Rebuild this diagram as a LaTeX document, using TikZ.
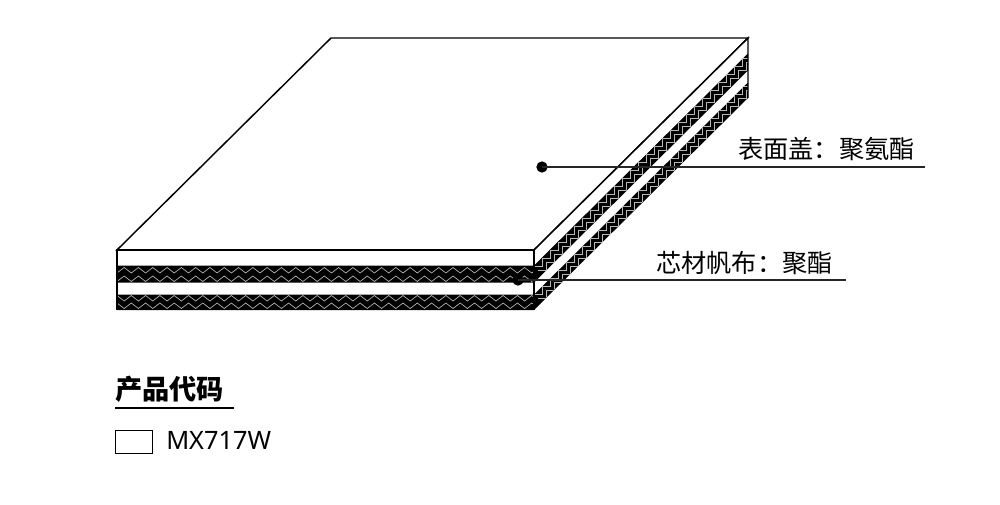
\documentclass[tikz,border=0pt]{standalone}
\usepackage{fontspec}
\setmainfont{Noto Sans CJK SC}
\newfontfamily\latinf{Noto Sans}
\tikzset{
  x=0.75pt,y=-0.75pt,
  edge/.style={draw=black,line width=1.1pt,line join=miter},
  leader/.style={draw=black!85,line width=0.8pt},
  zig/.style={draw=white!72!black,line width=0.5pt},
  band/.style={fill=black,draw=none},
  label/.style={inner sep=0pt,anchor=base west,font=\fontsize{18.9pt}{20pt}\selectfont},
  dotn/.style={circle,fill=black,inner sep=0pt,minimum size=8.5pt}
}
\newcommand{\frontzig}[2]{%
  \draw[zig] (117,#2)
  \foreach \k in {0,...,29}{ -- ({117+14.3*\k+7.15},#1) -- ({117+14.3*\k+14.3},#2) };
}
% side chevrons: #1 = start y, #2 = shift along the band
\newcommand{\sidezig}[2]{%
  \draw[zig] ({534+#2},{#1-#2})
  \foreach \k in {0,...,29}{ -- ({534+#2+8*\k+8},{#1-#2-8*\k}) -- ({534+#2+8*\k+8},{#1-#2-8*\k-8}) };
}
\begin{document}
\begin{tikzpicture}
\useasboundingbox (0,0) rectangle (1000,504);
% top face
\path[edge,fill=white] (117,250) -- (331,38) -- (748,38) -- (534,250) -- cycle;
% white layers
\path[fill=white] (534,250) -- (748,38) -- (748,98) -- (534,310) -- (117,310) -- (117,250) -- cycle;
% black bands, front and side
\path[band] (117,265.5) -- (534,265.5) -- (748,53.5) -- (748,70.5) -- (534,282.5) -- (117,282.5) -- cycle;
\path[band] (117,294.5) -- (534,294.5) -- (748,82.5) -- (748,98) -- (534,310) -- (117,310) -- cycle;
% zigzags
\begin{scope}
\clip (117,265.5) rectangle (534,282.5);
\frontzig{267.5}{273}
\frontzig{276}{281.5}
\end{scope}
\begin{scope}
\clip (117,294.5) rectangle (534,310);
\frontzig{301}{295.5}
\frontzig{308.5}{303}
\end{scope}
\begin{scope}
\clip (534,265.5) -- (748,53.5) -- (748,70.5) -- (534,282.5) -- cycle;
\sidezig{266}{0}
\sidezig{274.5}{4}
\end{scope}
\begin{scope}
\clip (534,294.5) -- (748,82.5) -- (748,98) -- (534,310) -- cycle;
\sidezig{294.5}{0}
\sidezig{302}{4}
\end{scope}
% outlines
\draw[edge] (117,310) -- (117,250) -- (534,250) -- (534,310);
\draw[edge] (534,250) -- (748,38) -- (748,98);
% labels and leaders
\node[dotn] (d1) at (542,167) {};
\coordinate (e1) at (925,167);
\draw[leader] (d1.center) -- (e1);
\node[label] (t1) at (738,158) {表面盖：聚氨酯};
\node[dotn] (d2) at (518,280) {};
\coordinate (e2) at (846,280);
\draw[leader] (d2.center) -- (e2);
\node[label] (t2) at (656,272) {芯材帆布：聚酯};
% legend
\node[label,font=\fontsize{20.4pt}{22pt}\selectfont\bfseries] (h) at (115,399) {产品代码};
\coordinate (h1) at (115,408);
\coordinate (h2) at (234,408);
\draw[black,line width=1.1pt] (h1) -- (h2);
\node[draw=black,line width=1.1pt,fill=white,inner sep=0pt,minimum width=27.5pt,minimum height=17pt,anchor=north west] (sw) at (115,430) {};
\node[label,font=\latinf\fontsize{19pt}{20pt}\selectfont] (code) at (166,449) {MX717W};
\end{tikzpicture}
\end{document}
